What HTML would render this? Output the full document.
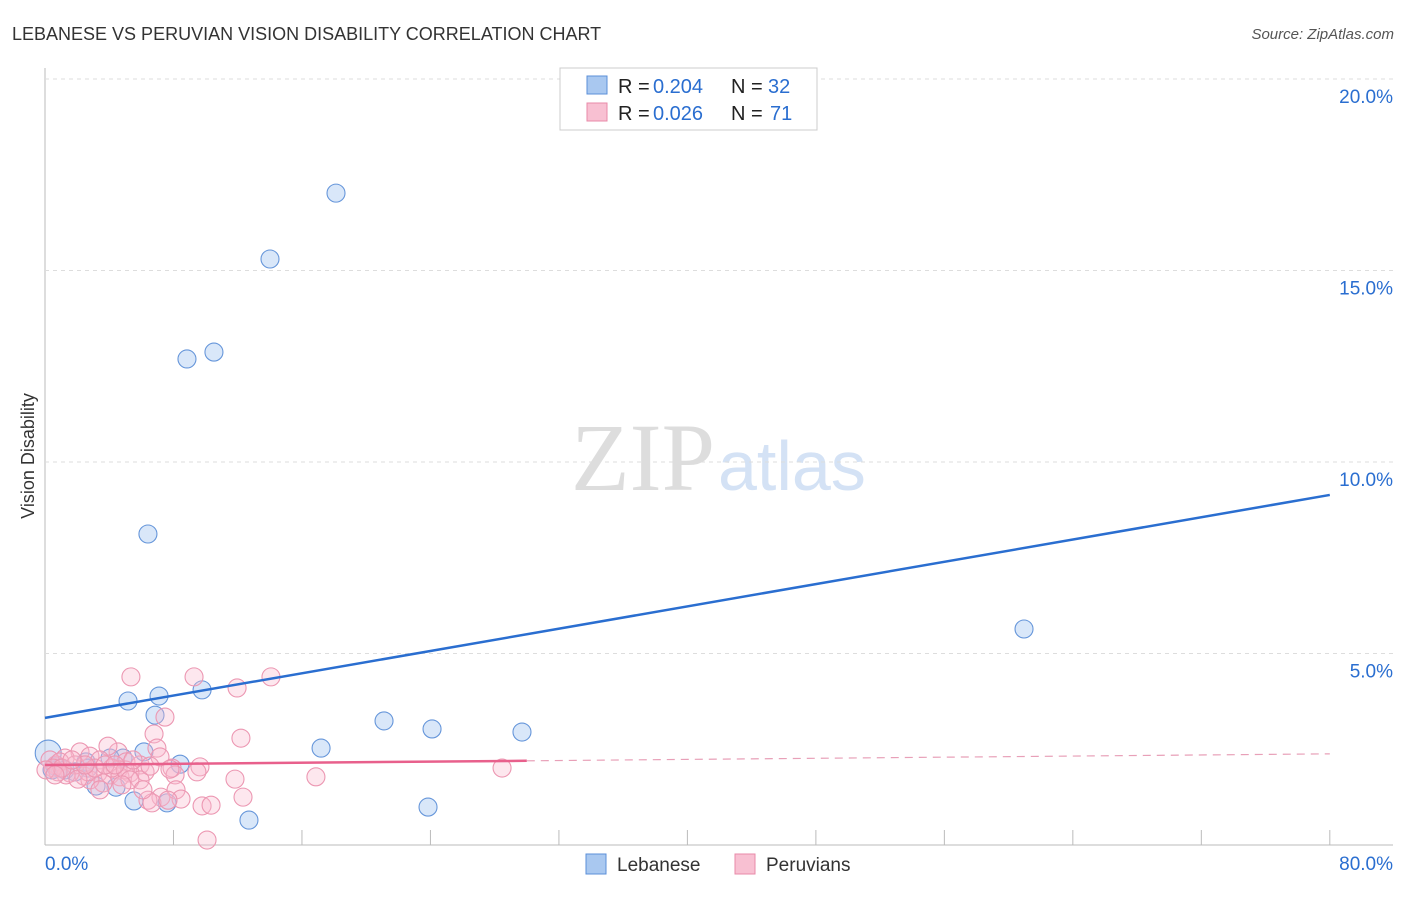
<!DOCTYPE html>
<html><head><meta charset="utf-8"><style>
body{margin:0;background:#fff;font-family:"Liberation Sans",sans-serif}
</style></head><body>
<svg id="c" width="1406" height="892" xmlns="http://www.w3.org/2000/svg">
<text x="12" y="40" font-size="18" fill="#333">LEBANESE VS PERUVIAN VISION DISABILITY CORRELATION CHART</text>
<text x="1394" y="39" font-size="15" fill="#555" font-style="italic" text-anchor="end">Source: ZipAtlas.com</text>
<text x="34" y="456" font-size="18" fill="#333" transform="rotate(-90 34 456)" text-anchor="middle">Vision Disability</text>
<text x="715" y="490" font-size="96" fill="#ddd" font-family="Liberation Serif" text-anchor="end">ZIP</text>
<text x="718" y="490" font-size="70" fill="#d4e2f5">atlas</text>
<g id="grid"></g><g id="pts"></g><g id="lines"></g>
<g>
<rect x="560" y="68" width="257" height="62" fill="#fff" stroke="#ccc"/>
<rect x="587" y="76" width="20" height="18" fill="#a9c8f0" stroke="#5b8fd8"/>
<rect x="587" y="103" width="20" height="18" fill="#f8c0d2" stroke="#e88aa8"/>
<text x="618" y="93" font-size="20" fill="#222">R =</text>
<text x="653" y="93" font-size="20" fill="#2a6ed0">0.204</text>
<text x="731" y="93" font-size="20" fill="#222">N =</text>
<text x="768" y="93" font-size="20" fill="#2a6ed0">32</text>
<text x="618" y="120" font-size="20" fill="#222">R =</text>
<text x="653" y="120" font-size="20" fill="#2a6ed0">0.026</text>
<text x="731" y="120" font-size="20" fill="#222">N =</text>
<text x="770" y="120" font-size="20" fill="#2a6ed0">71</text>
</g>
<g>
<rect x="586" y="854" width="20" height="20" fill="#a9c8f0" stroke="#5b8fd8"/>
<text x="617" y="871" font-size="19" fill="#333">Lebanese</text>
<rect x="735" y="854" width="20" height="20" fill="#f8c0d2" stroke="#e88aa8"/>
<text x="766" y="871" font-size="19" fill="#333">Peruvians</text>
</g>
</svg>
<script>
const yTicks=[5,10,15,20];
const yTickLabels=["5.0%","10.0%","15.0%","20.0%"];
const xTickLabels=["0.0%","80.0%"];
const lebX=[18.12,14.01,10.52,8.84,6.41,60.96,5.17,7.10,9.78,6.85,21.11,24.10,29.70,17.19,8.41,6.16,4.86,4.05,2.55,0.62,0.2,0.93,1.87,3.18,4.42,5.54,7.6,23.85,12.70,1.25,0.44,2.68];
const lebY=[17.02,15.30,12.87,12.69,8.12,5.64,3.76,3.89,4.05,3.39,3.24,3.03,2.95,2.53,2.11,2.43,2.27,2.27,2.17,2.06,2.4,2.01,1.91,1.54,1.51,1.15,1.10,0.99,0.65,1.96,1.96,2.01];
const perX=[5.35,9.28,14.07,11.96,7.47,6.79,12.2,6.97,4.55,3.92,7.16,2.18,2.80,1.25,3.42,5.04,5.92,7.91,9.65,6.23,4.55,3.30,2.43,1.56,0.68,0.31,4.05,5.29,8.10,9.46,11.83,16.87,28.46,5.92,3.61,2.80,4.67,8.16,7.22,6.41,8.47,6.66,9.78,10.34,12.33,10.09,0.93,1.87,2.68,1.31,4.17,5.0,2.05,3.11,6.54,7.78,0.5,0.81,3.42,5.29,7.66,1.06,3.74,0.06,4.36,5.48,2.49,1.68,0.62,6.10,4.79];
const perY=[4.39,4.39,4.39,4.10,3.34,2.90,2.79,2.53,2.43,2.58,2.30,2.43,2.32,2.27,2.22,2.17,2.09,2.01,2.04,1.91,1.96,1.88,1.80,1.88,2.09,2.22,1.83,1.88,1.83,1.91,1.72,1.78,2.01,1.70,1.62,1.70,1.78,1.44,1.25,1.17,1.20,1.10,1.02,1.04,1.25,0.13,2.17,2.09,1.91,1.83,2.01,1.96,1.72,2.01,2.06,1.98,2.01,1.91,1.44,1.70,1.17,2.01,2.09,1.96,2.09,2.22,2.09,2.22,1.83,1.44,1.57];
const lebTrend=[3.32,9.14];
const perTrend=[2.09,2.38];
const X=v=>45+v*16.06, Y=v=>845-v*38.3;
const NS="http://www.w3.org/2000/svg";
function mk(t,a,p){const e=document.createElementNS(NS,t);for(const k in a)e.setAttribute(k,a[k]);p.appendChild(e);return e;}
const g=document.getElementById('grid');
let ax=mk('line',{x1:45,y1:68,x2:45,y2:845,stroke:'#bbb'},g);


let bx=mk('line',{x1:45,y1:845,x2:1393,y2:845,stroke:'#bbb'},g);


for(let i=1;i<=10;i++){const t=mk('line',{x1:X(i*8),y1:830,x2:X(i*8),y2:845,stroke:'#bbb'},g);

}
yTicks.forEach((v,i)=>{const l=mk('line',{x1:45,y1:Y(v),x2:1393,y2:Y(v),stroke:'#ddd','stroke-dasharray':'4,4'},g);


const t=mk('text',{x:1393,y:Y(v)+24,'font-size':19,fill:'#2a6ed0','text-anchor':'end'},g);t.textContent=yTickLabels[i];

});
[[0,'start'],[80,'end']].forEach(([v,a],i)=>{const t=mk('text',{x:i?1393:45,y:870,'font-size':19,fill:'#2a6ed0','text-anchor':a},g);t.textContent=xTickLabels[i];

});
const p=document.getElementById('pts');
lebX.forEach((x,i)=>{const c=mk('circle',{cx:X(x),cy:Y(lebY[i]),r:i==20?13:9,fill:'rgba(170,202,242,0.45)',stroke:'#6696da','stroke-width':1.1},p);

});
perX.forEach((x,i)=>{const c=mk('circle',{cx:X(x),cy:Y(perY[i]),r:9,fill:'rgba(248,185,205,0.35)',stroke:'#ec97b2','stroke-width':1.1},p);

});
const L=document.getElementById('lines');
let b=mk('line',{x1:X(0),y1:Y(lebTrend[0]),x2:X(80),y2:Y(lebTrend[1]),stroke:'#2a6ed0','stroke-width':2.5},L);


const pm=perTrend[0]+(perTrend[1]-perTrend[0])*30/80;
let q=mk('line',{x1:X(0),y1:Y(perTrend[0]),x2:X(30),y2:Y(pm),stroke:'#e8608c','stroke-width':2.5},L);


let q2=mk('line',{x1:X(30),y1:Y(pm),x2:X(80),y2:Y(perTrend[1]),stroke:'#e8a0b8','stroke-width':1.2,'stroke-dasharray':'8,6'},L);


</script>
</body></html>
